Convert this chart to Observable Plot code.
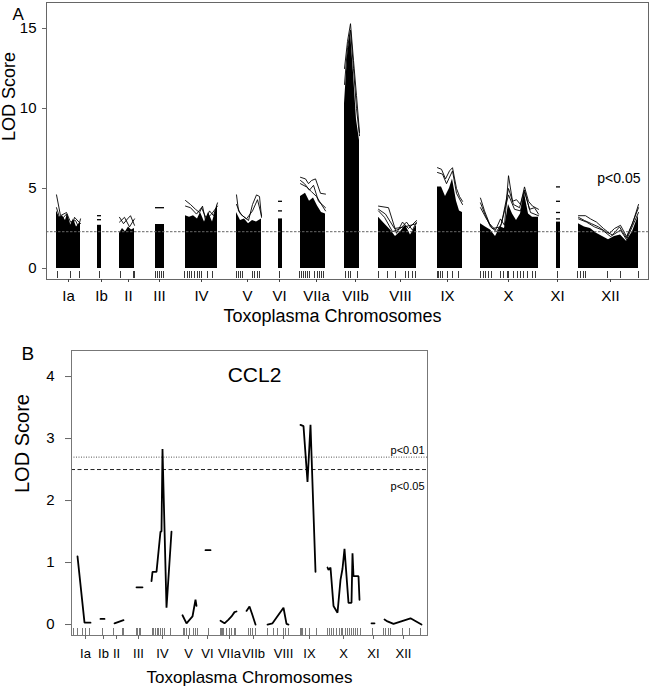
<!DOCTYPE html>
<html><head><meta charset="utf-8">
<script src="https://cdn.jsdelivr.net/npm/d3@7"></script>
<script src="https://cdn.jsdelivr.net/npm/@observablehq/plot@0.6"></script>
<style>
body{margin:0;background:#fff;}
#wrap{position:relative;width:650px;height:690px;font-family:"Liberation Sans",Arial,Helvetica,sans-serif;}
#a{position:absolute;left:0;top:0;}
#b{position:absolute;left:0;top:330px;}
</style></head><body><div id="wrap"><div id="a"></div><div id="b"></div></div>
<script>
const chromosomes = ["Ia","Ib","II","III","IV","V","VI","VIIa","VIIb","VIII","IX","X","XI","XII"];

// ---------- Panel A (genome position units, LOD) ----------
const labelPosA = [22,55,82,113,155,201,233,270,309,354,401,462,511,564];
const markerPosA = [11,24,33, 53, 74,87,88, 109,111,113,115,117,
  138,141,143,145,148,151,153,155,161,166, 190,192,194,196,206,208,211,213, 233,
  253,255,257,259,261,263,268,271,273,275,277, 299,302,304,311,
  332,341,349,359,362,366,369, 391,392,394,396,401,406,412,
  434,437,439,442,445,454,457,461,462,467,471,474,477,481,486,489, 511,
  531,534,537,539,561,574,592];
const thresholdA = 2.3;
// dense region (lower envelope of all traits): [chromosome, position, LOD]
const envelopeA = [
  ["Ia",10,3.6],["Ia",13,3.2],["Ia",16,3.3],["Ia",19,3.0],["Ia",21,3.4],["Ia",24,2.7],["Ia",27,3.1],["Ia",30,2.6],["Ia",34,2.9],
  ["Ib",51,2.7],["Ib",55,2.7],
  ["II",73,2.2],["II",76,2.5],["II",79,2.3],["II",82,2.6],["II",85,2.4],["II",88,2.5],
  ["III",109,2.75],["III",118,2.75],
  ["IV",139,3.3],["IV",143,3.2],["IV",147,3.3],["IV",151,3.1],["IV",154,3.5],["IV",158,2.9],["IV",162,3.5],["IV",166,2.9],["IV",171,4.0],
  ["V",190,3.5],["V",194,3.0],["V",198,3.1],["V",202,2.8],["V",206,3.0],["V",210,2.9],["V",215,3.1],
  ["VI",232,3.1],["VI",236,3.1],
  ["VIIa",254,4.5],["VIIa",259,4.7],["VIIa",263,4.2],["VIIa",267,4.4],["VIIa",271,3.9],["VIIa",275,3.5],["VIIa",279,3.4],
  ["VIIb",298,10.3],["VIIb",301,13.3],["VIIb",304,14.8],["VIIb",307,12.2],["VIIb",310,9.3],["VIIb",313,8.0],
  ["VIII",332,3.2],["VIII",338,2.8],["VIII",344,2.4],["VIII",349,2.0],["VIII",354,2.3],["VIII",359,2.7],["VIII",364,2.1],["VIII",370,2.7],
  ["IX",391,5.1],["IX",395,5.1],["IX",399,4.5],["IX",403,5.0],["IX",406,5.6],["IX",410,4.2],["IX",413,3.6],["IX",416,3.5],
  ["X",434,2.8],["X",439,2.6],["X",444,2.4],["X",449,2.0],["X",454,2.6],["X",458,2.5],["X",462,4.0],["X",466,3.4],["X",470,3.0],["X",474,3.4],["X",478,4.7],["X",482,3.4],["X",486,3.2],["X",492,3.2],
  ["XI",510,2.9],["XI",514,2.9],
  ["XII",532,2.8],["XII",538,2.6],["XII",544,2.5],["XII",550,2.2],["XII",556,2.0],["XII",562,1.8],["XII",568,2.0],["XII",574,2.1],["XII",580,1.7],["XII",586,2.3],["XII",592,3.3]
];
// highest individual traits: [chromosome, trace, position, LOD]
const tracesA = [
  ["Ia",1,10,4.6],["Ia",1,14,3.3],["Ia",1,20,3.5],["Ia",1,24,2.9],["Ia",1,29,3.0],["Ia",1,32,2.6],["Ia",1,34,3.1],
  ["Ia",2,10,3.8],["Ia",2,14,3.0],["Ia",2,20,3.4],["Ia",2,25,2.4],["Ia",2,28,3.2],["Ia",2,34,2.8],
  ["II",1,73,3.2],["II",1,77,2.8],["II",1,81,3.1],["II",1,84,3.3],["II",1,88,2.7],
  ["II",2,73,2.9],["II",2,78,3.2],["II",2,83,2.6],["II",2,88,3.1],
  ["IV",1,139,4.25],["IV",1,144,4.0],["IV",1,149,3.7],["IV",1,153,3.5],["IV",1,156,3.9],["IV",1,159,3.0],["IV",1,163,3.6],["IV",1,167,3.3],["IV",1,171,4.1],
  ["IV",2,139,3.9],["IV",2,144,3.8],["IV",2,150,3.4],["IV",2,155,3.8],["IV",2,160,3.1],["IV",2,165,3.4],["IV",2,171,3.9],
  ["V",1,190,4.6],["V",1,192,3.6],["V",1,196,3.3],["V",1,202,3.0],["V",1,206,4.0],["V",1,210,4.6],["V",1,213,4.5],["V",1,215,3.2],
  ["V",2,190,4.0],["V",2,194,3.4],["V",2,200,3.1],["V",2,206,3.6],["V",2,211,4.3],["V",2,215,3.3],
  ["VIIa",1,254,5.7],["VIIa",1,259,5.6],["VIIa",1,262,5.3],["VIIa",1,265,5.5],["VIIa",1,269,5.6],["VIIa",1,274,4.7],["VIIa",1,279,4.65],
  ["VIIa",2,254,5.5],["VIIa",2,258,5.3],["VIIa",2,263,4.9],["VIIa",2,267,5.2],["VIIa",2,272,4.2],["VIIa",2,279,3.8],
  ["VIIa",3,254,5.3],["VIIa",3,260,5.1],["VIIa",3,265,4.8],["VIIa",3,270,4.5],["VIIa",3,279,3.6],
  ["VIIb",1,298,12.5],["VIIb",1,301,14.2],["VIIb",1,304,15.3],["VIIb",1,307,13.0],["VIIb",1,310,10.8],["VIIb",1,313,8.5],
  ["VIIb",2,298,11.5],["VIIb",2,301,13.8],["VIIb",2,304,14.9],["VIIb",2,307,12.5],["VIIb",2,310,10.0],["VIIb",2,313,8.3],
  ["VIII",1,332,3.9],["VIII",1,342,3.8],["VIII",1,350,2.2],["VIII",1,356,2.9],["VIII",1,362,2.5],["VIII",1,370,3.0],
  ["VIII",2,332,3.6],["VIII",2,338,3.2],["VIII",2,346,2.3],["VIII",2,354,2.5],["VIII",2,360,2.9],["VIII",2,366,2.4],["VIII",2,370,2.9],
  ["VIII",3,332,3.7],["VIII",3,339,3.4],["VIII",3,348,2.5],["VIII",3,358,2.6],["VIII",3,370,2.8],
  ["IX",1,391,6.3],["IX",1,395,6.2],["IX",1,399,5.6],["IX",1,403,6.1],["IX",1,406,6.3],["IX",1,410,5.0],["IX",1,413,4.5],["IX",1,416,4.2],
  ["IX",2,391,6.0],["IX",2,396,5.9],["IX",2,400,5.3],["IX",2,406,6.1],["IX",2,410,4.7],["IX",2,416,4.0],
  ["X",1,434,4.4],["X",1,438,3.6],["X",1,443,2.8],["X",1,449,2.4],["X",1,454,3.1],["X",1,458,2.7],["X",1,462,5.8],["X",1,466,4.2],["X",1,470,4.3],["X",1,474,4.0],["X",1,478,5.1],["X",1,482,4.2],["X",1,486,3.9],["X",1,492,3.7],
  ["X",2,434,4.1],["X",2,439,3.3],["X",2,444,2.6],["X",2,450,2.3],["X",2,455,2.8],["X",2,462,5.0],["X",2,467,4.0],["X",2,473,3.8],["X",2,478,4.9],["X",2,483,3.7],["X",2,488,3.8],["X",2,492,3.4],
  ["X",3,434,3.8],["X",3,440,3.1],["X",3,446,2.5],["X",3,454,2.6],["X",3,462,4.6],["X",3,468,3.7],["X",3,474,3.6],["X",3,478,4.8],["X",3,484,3.5],["X",3,492,3.3],
  ["XII",1,532,3.3],["XII",1,539,3.3],["XII",1,544,3.1],["XII",1,550,2.9],["XII",1,557,2.5],["XII",1,563,2.2],["XII",1,568,2.5],["XII",1,574,2.7],["XII",1,580,2.0],["XII",1,586,2.8],["XII",1,592,4.0],
  ["XII",2,532,3.2],["XII",2,538,3.0],["XII",2,545,2.8],["XII",2,552,2.6],["XII",2,559,2.3],["XII",2,566,2.1],["XII",2,573,2.6],["XII",2,580,1.9],["XII",2,592,3.8],
  ["XII",3,532,3.1],["XII",3,540,2.9],["XII",3,548,2.6],["XII",3,556,2.4],["XII",3,564,2.0],["XII",3,574,2.4],["XII",3,580,1.8],["XII",3,592,3.5]
];
// single-locus chromosomes: traits appear as short dashes [chromosome, from, to, LOD]
const dashesA = [
  ["Ib",51,55,3.05],["Ib",51,55,3.3],
  ["III",109,118,3.8],
  ["VI",232,236,3.6],["VI",232,236,4.2],
  ["XI",510,514,3.1],["XI",510,514,3.5],["XI",510,514,4.2],["XI",510,514,5.1]
];

// ---------- Panel B (CCL2) ----------
const labelPosB = [14,32,45,67,91,117,136,158,182,212,238,272,302,332];
const markerPosB = [2,6,11,14,18, 31, 42,51,52, 65,66,68,69,
  81,82,84,86,87,89,91,93,99, 112,113,115,118,122,124,126, 137,
  149,150,151,152,155,158,160,163,164, 177,179,181,184,
  196,202,206,212,214,217, 229,230,231,234,238,245,
  256,258,260,262,265,268,270,271,274,276,278,280,282,284,286,289, 301,
  312,314,317,319,331,338,349];
const sigB = [2.7, 2.5]; // p<0.01, p<0.05
const ccl2 = [
  ["Ia",6,1.1],["Ia",13,0.03],["Ia",19,0.03],
  ["Ib",29,0.09],["Ib",33,0.09],
  ["II",43,0.02],["II",52,0.07],
  ["III",65,0.6],["III",71,0.6],
  ["IV",80,0.7],["IV",81,0.85],["IV",85,0.85],["IV",89,1.5],["IV",90,1.5],["IV",91,2.83],["IV",95,0.27],["IV",100,1.5],
  ["V",111,0.15],["V",115,0.02],["V",121,0.13],["V",124,0.4],["V",125,0.3],
  ["VI",134,1.2],["VI",139,1.2],
  ["VIIa",149,0.06],["VIIa",153,0.02],["VIIa",157,0.08],["VIIa",160,0.13],["VIIa",163,0.2],["VIIa",165,0.21],
  ["VIIb",175,0.22],["VIIb",178,0.29],["VIIb",181,0.15],["VIIb",184,0.0],
  ["VIII",196,0.0],["VIII",201,0.02],["VIII",212,0.27],["VIII",215,0.01],["VIII",217,0.0],
  ["IX",229,3.22],["IX",232,3.2],["IX",236,2.3],["IX",239,3.22],["IX",244,0.85],
  ["X",256,0.92],["X",257,0.88],["X",259,0.92],["X",262,0.3],["X",266,0.19],["X",269,0.72],["X",271,0.9],["X",273,1.22],["X",277,0.35],["X",280,0.35],["X",281,1.15],["X",282,0.78],["X",287,0.78],["X",288,0.4],
  ["XI",300,0.02],["XI",303,0.02],
  ["XII",313,0.08],["XII",316,0.05],["XII",322,0.01],["XII",339,0.1],["XII",350,0.0]
];

const font = '"Liberation Sans", Arial, Helvetica, sans-serif';
const labelMapA = new Map(labelPosA.map((p, i) => [p, chromosomes[i]]));
const labelMapB = new Map(labelPosB.map((p, i) => [p, chromosomes[i]]));
const id = d => d;

const fillRows = envelopeA.map(([chr, pos, lod]) => ({chr, pos, lod}));
const traceRows = tracesA.map(([chr, t, pos, lod]) => ({key: chr + "-" + t, pos, lod}));
const dashRows = dashesA.map(([chr, x1, x2, lod]) => ({chr, x1, x2, lod}));
const ccl2Rows = ccl2.map(([chr, pos, lod]) => ({chr, pos, lod}));

const plotA = Plot.plot({
  width: 650, height: 330,
  marginLeft: 46, marginRight: 2, marginTop: 2, marginBottom: 51,
  x: {domain: [0, 602]},
  y: {domain: [-0.6875, 16.625]},
  style: {fontFamily: font, fontSize: "15px", color: "#000", background: "#fff", overflow: "visible"},
  marks: [
    Plot.areaY(fillRows, {x: "pos", y1: 0, y2: "lod", z: "chr", fill: "#000", curve: "linear"}),
    Plot.line(traceRows, {x: "pos", y: "lod", z: "key", stroke: "#000", strokeWidth: 0.9}),
    Plot.ruleY(dashRows, {x1: "x1", x2: "x2", y: "lod", stroke: "#000", strokeWidth: 1.3}),
    Plot.ruleY([thresholdA], {stroke: "#666", strokeDasharray: "2.5,1.5", strokeWidth: 1}),
    Plot.tickX(markerPosA, {x: id, stroke: "#222", strokeWidth: 0.9, insetTop: 269, insetBottom: 1}),
    Plot.frame({stroke: "#666"}),
    Plot.axisY({ticks: [0, 5, 10, 15], tickFormat: d => String(d), tickSize: 4, tickPadding: 6, label: null, fontSize: 15, stroke: "#666"}),
    Plot.axisX({ticks: labelPosA, tickFormat: d => labelMapA.get(d), tickSize: 3, tickPadding: 8, label: null, fontSize: 15, stroke: "#444"}),
    Plot.text(["LOD Score"], {text: id, frameAnchor: "left", dx: -37, rotate: -90, fontSize: 18}),
    Plot.text(["Toxoplasma Chromosomes"], {text: id, frameAnchor: "bottom", dy: 42, dx: -15, fontSize: 18}),
    Plot.text(["p<0.05"], {text: id, frameAnchor: "top-right", dx: -8, dy: 171, textAnchor: "end", fontSize: 14}),
    Plot.text(["A"], {text: id, frameAnchor: "top-left", dx: -34, dy: 5, fontSize: 17})
  ]
});
document.getElementById("a").append(plotA);

const plotB = Plot.plot({
  width: 650, height: 360,
  marginLeft: 71, marginRight: 223, marginTop: 20, marginBottom: 55,
  x: {domain: [0, 356]},
  y: {domain: [-0.177, 4.42]},
  style: {fontFamily: font, fontSize: "14px", color: "#000", background: "#fff", overflow: "visible"},
  marks: [
    Plot.ruleY([sigB[0]], {stroke: "#555", strokeDasharray: "1,1.5", strokeWidth: 1}),
    Plot.ruleY([sigB[1]], {stroke: "#222", strokeDasharray: "4,2.5", strokeWidth: 1}),
    Plot.line(ccl2Rows, {x: "pos", y: "lod", z: "chr", stroke: "#000", strokeWidth: 1.8, strokeLinejoin: "miter"}),
    Plot.tickX(markerPosB, {x: id, stroke: "#555", strokeWidth: 0.8, insetTop: 278, insetBottom: 0}),
    Plot.frame({stroke: "#777"}),
    Plot.axisY({ticks: [0, 1, 2, 3, 4], tickFormat: d => String(d), tickSize: 6, tickPadding: 11, label: null, fontSize: 15, stroke: "#666"}),
    Plot.axisX({ticks: labelPosB, tickFormat: d => labelMapB.get(d), tickSize: 4, tickPadding: 9, label: null, fontSize: 13, stroke: "#666"}),
    Plot.text(["CCL2"], {text: id, frameAnchor: "top", dx: 5, dy: 17, fontSize: 21}),
    Plot.text(["p<0.01"], {text: id, frameAnchor: "top-right", dx: -3, dy: 96, textAnchor: "end", fontSize: 11}),
    Plot.text(["p<0.05"], {text: id, frameAnchor: "top-right", dx: -3, dy: 132, textAnchor: "end", fontSize: 11}),
    Plot.text(["LOD Score"], {text: id, frameAnchor: "left", dx: -49, rotate: -90, fontSize: 20}),
    Plot.text(["Toxoplasma Chromosomes"], {text: id, frameAnchor: "bottom", dy: 47, fontSize: 17}),
    Plot.text(["B"], {text: id, frameAnchor: "top-left", dx: -50, dy: -4, fontSize: 19})
  ]
});
document.getElementById("b").append(plotB);
</script>
</body></html>
